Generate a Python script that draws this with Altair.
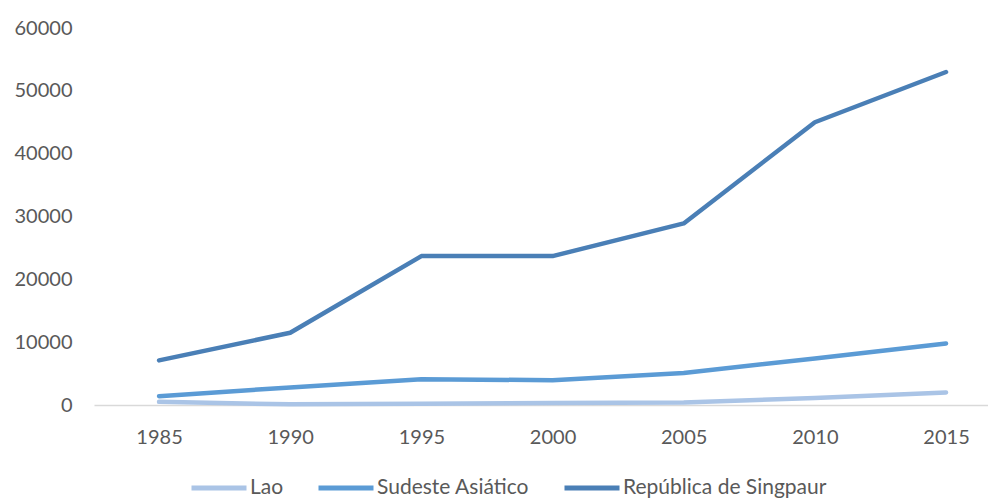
import altair as alt
import pandas as pd

years = [1985, 1990, 1995, 2000, 2005, 2010, 2015]
series_names = ["Lao", "Sudeste Asiático", "República de Singpaur"]
lao = [500, 100, 200, 300, 400, 1100, 2000]
sudeste = [1400, 2800, 4100, 3950, 5100, 7400, 9800]
singapur = [7100, 11500, 23700, 23700, 28900, 45000, 53000]
colors = ["#aac4e6", "#5b9bd5", "#4a7fb6"]
y_ticks = [0, 10000, 20000, 30000, 40000, 50000, 60000]

rows = []
for name, vals in zip(series_names, [lao, sudeste, singapur]):
    for yr, v in zip(years, vals):
        rows.append({"Año": yr, "Valor": v, "Serie": name})
df = pd.DataFrame(rows)

FONT = "Lato"
chart = (
    alt.Chart(df)
    .mark_line(strokeWidth=4.5, strokeCap="round", strokeJoin="round")
    .encode(
        x=alt.X(
            "Año:Q",
            scale=alt.Scale(domain=[1982.52, 2016.6], nice=False, zero=False),
            axis=alt.Axis(
                values=years, format="d", title=None, grid=False, ticks=False,
                tickSize=0, domain=True, domainColor="#d9d9d9", domainWidth=1.5,
                labelFont=FONT, labelFontSize=20, labelColor="#595959",
                labelPadding=22,
            ),
        ),
        y=alt.Y(
            "Valor:Q",
            scale=alt.Scale(domain=[0, 60000], nice=False),
            axis=alt.Axis(
                values=y_ticks, format="d", title=None, grid=False, ticks=False,
                tickSize=0, domain=False, labelFont=FONT, labelFontSize=20,
                labelColor="#595959", labelPadding=22,
            ),
        ),
        color=alt.Color(
            "Serie:N",
            scale=alt.Scale(domain=series_names, range=colors),
            legend=alt.Legend(
                title=None, orient="none", direction="horizontal",
                legendX=95, legendY=430, symbolType="stroke",
                symbolStrokeWidth=5, symbolSize=3025, labelFont=FONT,
                labelFontSize=21, labelColor="#595959", labelOffset=1,
                labelLimit=0, columnPadding=24, padding=0,
            ),
        ),
        order=alt.Order("Año:Q"),
    )
    .properties(
        width=894, height=377, autosize=alt.AutoSizeParams(type="none"),
        padding={"left": 86, "top": 20, "right": 0, "bottom": 100},
    )
    .configure_view(stroke=None)
)

chart.save("out.html", embed_options={"renderer": "svg", "actions": False})
